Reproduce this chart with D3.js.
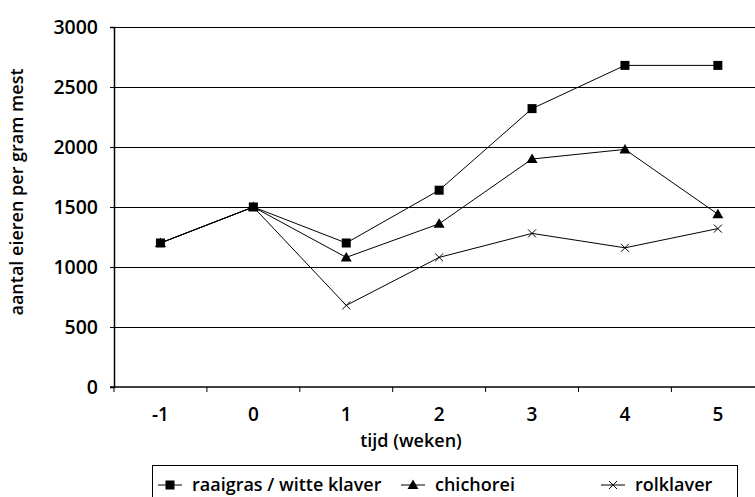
<!DOCTYPE html>
<html>
<head>
<meta charset="utf-8">
<script src="https://cdn.jsdelivr.net/npm/d3@7"></script>
<style>
  html, body { margin: 0; padding: 0; background: #fff; }
  svg { display: block; }
  text { font-family: "Open Sans", "DejaVu Sans", sans-serif; font-weight: 600; fill: #000; }
</style>
</head>
<body>
<svg id="chart" width="755" height="497"></svg>
<script>
const categories = ["-1", "0", "1", "2", "3", "4", "5"];
const raaigras = [1200, 1500, 1200, 1640, 2320, 2680, 2680];
const chichorei = [1200, 1500, 1080, 1360, 1900, 1980, 1440];
const rolklaver = [1200, 1500, 680, 1080, 1280, 1160, 1320];
const yTicks = [0, 500, 1000, 1500, 2000, 2500, 3000];
const seriesNames = ["raaigras / witte klaver", "chichorei", "rolklaver"];

(function () {
const series = [
  { name: seriesNames[0], values: raaigras, marker: "square" },
  { name: seriesNames[1], values: chichorei, marker: "triangle" },
  { name: seriesNames[2], values: rolklaver, marker: "cross" }
];

const svg = d3.select("#chart");
const pLeft = 114, pTop = 27, pBottom = 387, band = 92.9;
const x = d3.scaleBand().domain(categories).range([pLeft, pLeft + band * categories.length]);
const y = d3.scaleLinear().domain([0, 3000]).range([pBottom, pTop]);
const W = 755;

svg.append("g").selectAll("line").data(yTicks.filter(d => d > 0)).join("line")
  .attr("x1", pLeft).attr("x2", W).attr("y1", d => y(d)).attr("y2", d => y(d))
  .attr("stroke", "#000").attr("stroke-width", 1).attr("shape-rendering", "crispEdges");

const yAxis = d3.axisLeft(y).tickValues(yTicks).tickSize(4).tickPadding(12).tickFormat(d3.format("d"));
const gy = svg.append("g").attr("transform", `translate(${pLeft},0)`).call(yAxis);
gy.select(".domain").attr("stroke", "#000").attr("stroke-width", 1.5);
gy.selectAll(".tick line").attr("stroke", "#000");
gy.selectAll(".tick text").attr("font-size", 19.5).attr("font-family", null);

const xAxis = d3.axisBottom(x).tickSize(0).tickPadding(21);
const gx = svg.append("g").attr("transform", `translate(0,${pBottom})`).call(xAxis);
gx.select(".domain").remove();
gx.selectAll(".tick text").attr("font-size", 19).attr("font-family", null);
svg.append("line").attr("x1", pLeft - 4).attr("x2", W).attr("y1", pBottom).attr("y2", pBottom)
  .attr("stroke", "#000").attr("stroke-width", 1.5);
svg.append("g").selectAll("line").data(categories).join("line")
  .attr("x1", d => x(d)).attr("x2", d => x(d)).attr("y1", pBottom).attr("y2", pBottom + 5)
  .attr("stroke", "#000").attr("stroke-width", 1);

svg.append("text").attr("x", 411).attr("y", 447).attr("text-anchor", "middle")
  .attr("font-size", 18).text("tijd (weken)");
svg.append("text").attr("transform", `translate(23,192) rotate(-90)`)
  .attr("text-anchor", "middle").attr("font-size", 18).text("aantal eieren per gram mest");

function drawMarker(g, type, cx, cy) {
  if (type === "square") {
    g.append("rect").attr("x", cx - 4.5).attr("y", cy - 4.5).attr("width", 9).attr("height", 9).attr("fill", "#000");
  } else if (type === "triangle") {
    g.append("path").attr("d", `M${cx},${cy - 5.5}L${cx + 5.5},${cy + 4}L${cx - 5.5},${cy + 4}Z`).attr("fill", "#000");
  } else {
    g.append("path").attr("d", `M${cx - 4},${cy - 4}L${cx + 4},${cy + 4}M${cx - 4},${cy + 4}L${cx + 4},${cy - 4}`)
      .attr("stroke", "#000").attr("stroke-width", 1).attr("fill", "none");
  }
}

const line = d3.line().x((d, i) => x(categories[i]) + x.bandwidth() / 2).y(d => y(d));
series.slice().reverse().forEach(s => {
  const g = svg.append("g");
  g.append("path").attr("d", line(s.values)).attr("fill", "none").attr("stroke", "#000").attr("stroke-width", 1);
  s.values.forEach((v, i) => drawMarker(g, s.marker, x(categories[i]) + x.bandwidth() / 2, y(v)));
});

const lg = svg.append("g");
lg.append("rect").attr("x", 152.5).attr("y", 465.5).attr("width", 585).attr("height", 40)
  .attr("fill", "#fff").attr("stroke", "#000").attr("stroke-width", 1);
const legendX = [158, 401, 601];
series.forEach((s, i) => {
  const lx = legendX[i], ly = 485;
  lg.append("line").attr("x1", lx).attr("x2", lx + 24).attr("y1", ly).attr("y2", ly).attr("stroke", "#000");
  drawMarker(lg, s.marker, lx + 12, ly);
  lg.append("text").attr("x", lx + 34).attr("y", ly + 6).attr("font-size", 18).text(s.name);
});
})();
</script>
</body>
</html>
